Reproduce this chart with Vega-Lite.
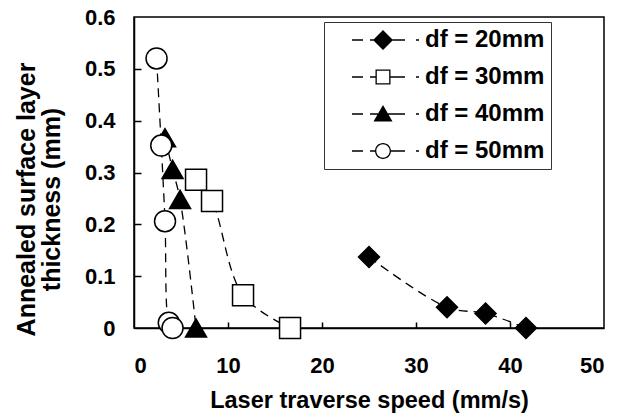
{
  "$schema": "https://vega.github.io/schema/vega-lite/v6.json",
  "width": 470,
  "height": 311,
  "autosize": {"type": "none"},
  "padding": {"left": 134, "top": 17, "right": 23, "bottom": 90},
  "background": "white",
  "config": {
    "view": {"stroke": "black", "strokeWidth": 1.5},
    "font": "Liberation Sans",
    "axis": {
      "grid": false,
      "domainColor": "black",
      "domainWidth": 1.5,
      "tickColor": "black",
      "tickWidth": 1.5,
      "labelFont": "Liberation Sans",
      "labelFontWeight": "bold",
      "labelColor": "black",
      "labelFontSize": 22,
      "titleFont": "Liberation Sans",
      "titleFontWeight": "bold",
      "titleColor": "black",
      "titleFontSize": 23.5
    }
  },
  "data": {
    "values": [
      {"series": "df = 20mm", "speed": 25.0, "thickness": 0.137},
      {"series": "df = 20mm", "speed": 33.3, "thickness": 0.040},
      {"series": "df = 20mm", "speed": 37.4, "thickness": 0.028},
      {"series": "df = 20mm", "speed": 41.7, "thickness": 0.0},
      {"series": "df = 30mm", "speed": 6.6, "thickness": 0.286},
      {"series": "df = 30mm", "speed": 8.3, "thickness": 0.245},
      {"series": "df = 30mm", "speed": 11.6, "thickness": 0.063},
      {"series": "df = 30mm", "speed": 16.6, "thickness": 0.0},
      {"series": "df = 40mm", "speed": 3.3, "thickness": 0.367},
      {"series": "df = 40mm", "speed": 4.1, "thickness": 0.306},
      {"series": "df = 40mm", "speed": 4.9, "thickness": 0.248},
      {"series": "df = 40mm", "speed": 6.6, "thickness": 0.0},
      {"series": "df = 50mm", "speed": 2.4, "thickness": 0.52},
      {"series": "df = 50mm", "speed": 2.9, "thickness": 0.352},
      {"series": "df = 50mm", "speed": 3.3, "thickness": 0.206},
      {"series": "df = 50mm", "speed": 3.7, "thickness": 0.01},
      {"series": "df = 50mm", "speed": 4.1, "thickness": 0.0}
    ]
  },
  "resolve": {
    "axis": {"x": "independent", "y": "independent"},
    "scale": {"shape": "independent", "fill": "independent"}
  },
  "layer": [
    {
      "mark": {"type": "line", "interpolate": "catmull-rom", "color": "black", "strokeWidth": 1.3, "strokeDash": [9, 6]},
      "encoding": {
        "x": {
          "field": "speed",
          "type": "quantitative",
          "scale": {"domain": [0, 50], "nice": false, "zero": true},
          "axis": {
            "orient": "bottom",
            "values": [0, 10, 20, 30, 40, 50],
            "ticks": false,
            "labelPadding": 27,
            "title": "Laser traverse speed (mm/s)",
            "titlePadding": 12
          }
        },
        "y": {
          "field": "thickness",
          "type": "quantitative",
          "scale": {"domain": [0, 0.6], "nice": false},
          "axis": {
            "orient": "left",
            "values": [0, 0.1, 0.2, 0.3, 0.4, 0.5, 0.6],
            "labelExpr": "datum.value == 0 ? '0' : format(datum.value, '.1f')",
            "ticks": false,
            "labelPadding": 19,
            "title": ["Annealed surface layer", "thickness (mm)"],
            "titleFontSize": 25,
            "titlePadding": 20,
            "titleLineHeight": 25,
            "titleY": 182
          }
        },
        "detail": {"field": "series"}
      }
    },
    {
      "mark": {"type": "point", "filled": true, "stroke": "black", "strokeWidth": 1.5, "size": 441, "opacity": 1},
      "encoding": {
        "x": {
          "field": "speed",
          "type": "quantitative",
          "axis": {"orient": "bottom", "offset": -6, "values": [10, 20, 30, 40], "tickSize": 6, "labels": false, "domain": false, "title": null}
        },
        "y": {
          "field": "thickness",
          "type": "quantitative",
          "axis": {"orient": "left", "offset": -7, "values": [0.1, 0.2, 0.3, 0.4, 0.5], "tickSize": 7, "labels": false, "domain": false, "title": null}
        },
        "shape": {
          "field": "series",
          "type": "nominal",
          "scale": {"domain": ["df = 20mm", "df = 30mm", "df = 40mm", "df = 50mm"], "range": ["diamond", "square", "triangle-up", "circle"]},
          "legend": null
        },
        "fill": {
          "field": "series",
          "type": "nominal",
          "scale": {"domain": ["df = 20mm", "df = 30mm", "df = 40mm", "df = 50mm"], "range": ["black", "white", "black", "white"]},
          "legend": null
        }
      }
    },
    {
      "transform": [{"filter": "datum.speed < 0"}],
      "mark": {"type": "point", "filled": true, "color": "black", "opacity": 1},
      "encoding": {
        "x": {"field": "speed", "type": "quantitative", "axis": null},
        "y": {"field": "thickness", "type": "quantitative", "axis": null},
        "shape": {
          "field": "series",
          "type": "nominal",
          "scale": {
            "domain": ["df = 20mm", "df = 30mm", "df = 40mm", "df = 50mm"],
            "range": [
              "M-31,-0.65H-20V0.65H-31ZM-13,-0.65H-8V0.65H-13ZM0,-10L10,0L0,10L-10,0ZM8,-0.65H22V0.65H8ZM33,-0.65H36V0.65H33Z",
              "M-31,-0.65H-20V0.65H-31ZM-13,-0.65H-7.5V0.65H-13ZM-7.5,-7.5H7.5V7.5H-7.5ZM-6.2,-6.2V6.2H6.2V-6.2ZM7.5,-0.65H22V0.65H7.5ZM33,-0.65H36V0.65H33Z",
              "M-31,-0.65H-20V0.65H-31ZM-13,-0.65H-5V0.65H-13ZM0,-9L9.5,7.5H-9.5ZM5,-0.65H22V0.65H5ZM33,-0.65H36V0.65H33Z",
              "M-31,-0.65H-20V0.65H-31ZM-13,-0.65H-7.5V0.65H-13ZM8,0A8,8 0 1,1 -8,0A8,8 0 1,1 8,0ZM6.7,0A6.7,6.7 0 1,0 -6.7,0A6.7,6.7 0 1,0 6.7,0ZM7.5,-0.65H22V0.65H7.5ZM33,-0.65H36V0.65H33Z"
            ]
          },
          "legend": {
            "orient": "none",
            "legendX": 190,
            "legendY": 5,
            "title": null,
            "symbolSize": 4,
            "symbolStrokeWidth": 0,
            "symbolFillColor": "black",
            "symbolOpacity": 1,
            "symbolOffset": 41,
            "labelOffset": 30,
            "labelFont": "Liberation Sans",
            "labelFontSize": 24,
            "labelFontWeight": "bold",
            "labelColor": "black",
            "labelExpr": "datum.label + '   '",
            "padding": 6,
            "rowPadding": 13,
            "strokeColor": "#333333",
            "fillColor": "white"
          }
        }
      }
    }
  ]
}
